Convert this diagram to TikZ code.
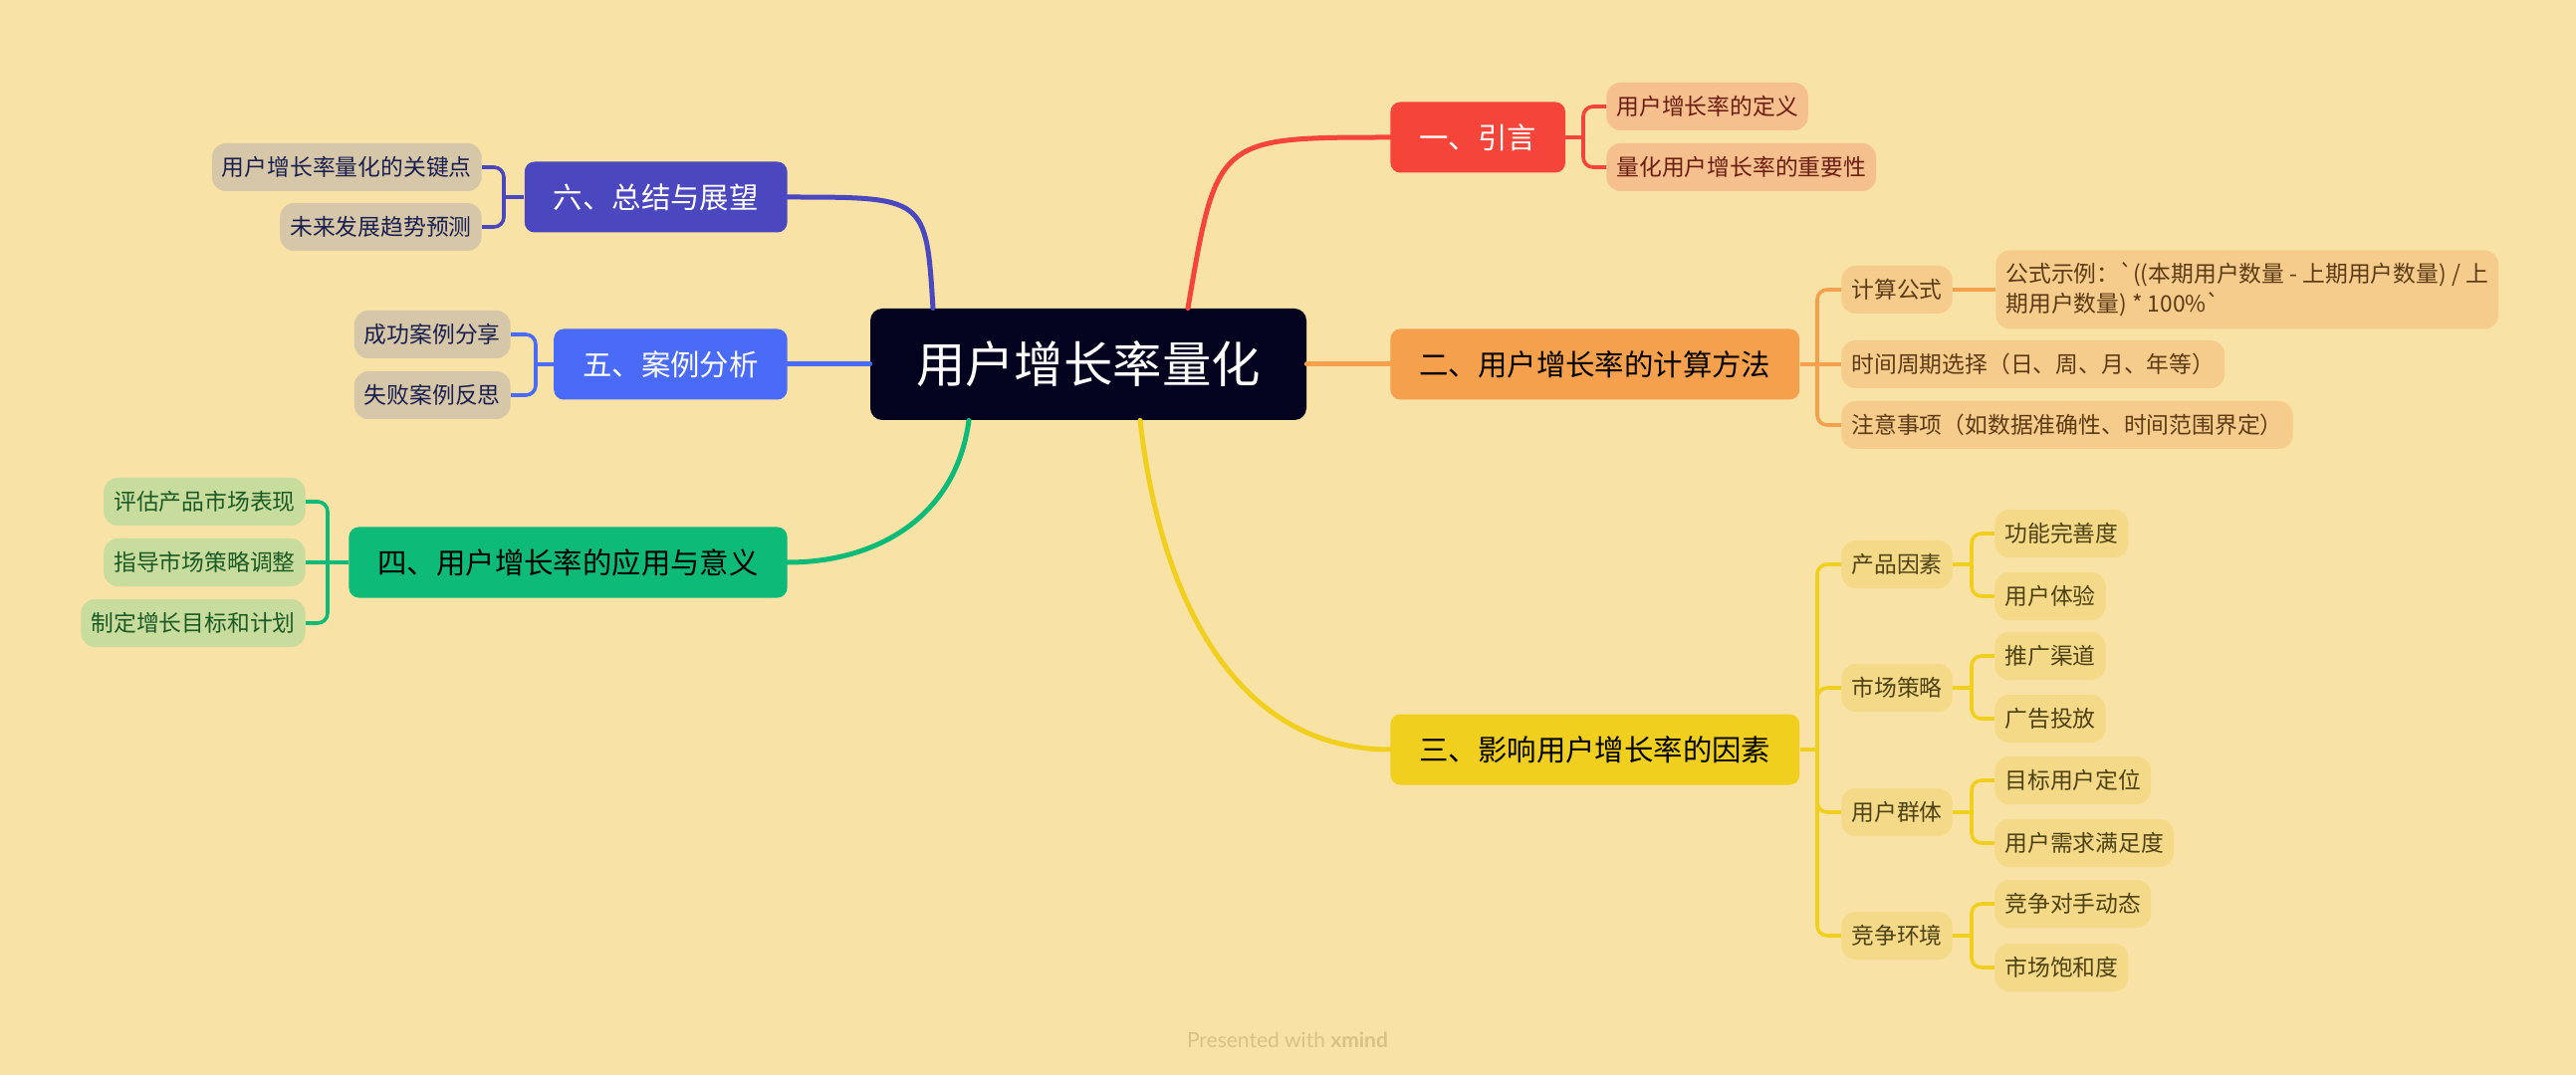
\documentclass[tikz,border=0pt]{standalone}
\usepackage{fontspec}
\setmainfont{Noto Sans CJK SC}[Ligatures=TeXOff]
\newfontfamily\creditfont{Lato}
\usepackage{xcolor}
\usepackage{tikz}
\usetikzlibrary{calc}

\definecolor{paper}{HTML}{F8E2A6}
\definecolor{rootnavy}{HTML}{03031F}
\definecolor{redbranch}{HTML}{F5443A}
\definecolor{orangebranch}{HTML}{F5A04D}
\definecolor{yellowbranch}{HTML}{F0CF1E}
\definecolor{greenbranch}{HTML}{0DBA78}
\definecolor{bluebranch}{HTML}{4A6BF7}
\definecolor{indigobranch}{HTML}{4B47BE}
\definecolor{creditgold}{HTML}{D8C285}
\definecolor{introfill}{HTML}{F5BF8E}
\definecolor{introink}{HTML}{6B1E10}
\definecolor{methodfill}{HTML}{F6CC8C}
\definecolor{methodink}{HTML}{5C3A14}
\definecolor{factorfill}{HTML}{F4DA88}
\definecolor{factorink}{HTML}{4E4112}
\definecolor{usagefill}{HTML}{C8DC9D}
\definecolor{usageink}{HTML}{1C5A25}
\definecolor{outlookfill}{HTML}{D6C7A9}
\definecolor{outlookink}{HTML}{1A1F4E}

\begin{document}
\begin{tikzpicture}[
    x=0.5pt, y=-0.5pt,
    rootbox/.style={rectangle, rounded corners=6pt, fill=rootnavy, text=white,
                    font=\fontsize{24.7}{30}\selectfont, minimum height=56pt,
                    minimum width=219pt, inner xsep=0pt, inner ysep=0pt},
    topicbox/.style={rectangle, rounded corners=5pt, minimum height=35.5pt,
                     inner xsep=14.5pt, inner ysep=0pt,
                     font=\fontsize{14.7}{17}\selectfont},
    subbox/.style={rectangle, rounded corners=7pt, minimum height=24pt,
                   inner xsep=5pt, inner ysep=0pt,
                   font=\fontsize{11.4}{15}\selectfont},
    introsub/.style={subbox, fill=introfill, text=introink},
    methodsub/.style={subbox, fill=methodfill, text=methodink},
    factorsub/.style={subbox, fill=factorfill, text=factorink},
    usagesub/.style={subbox, fill=usagefill, text=usageink},
    outlooksub/.style={subbox, fill=outlookfill, text=outlookink},
    branch/.style={line width=2.5pt, line cap=round},
    twig/.style={line width=1.8pt, rounded corners=5pt}
]

\fill[paper] (0,0) rectangle (2587,1080);
\useasboundingbox (0,0) rectangle (2587,1080);

% Central topic
\node[rootbox] (root) at (1093,366) {用户增长率量化};

% Main topics (right side)
\node[topicbox, fill=redbranch, text=white, anchor=west] (intro) at (1396,138) {一、引言};
\node[topicbox, fill=orangebranch, text=black, anchor=west] (method) at (1396,366) {二、用户增长率的计算方法};
\node[topicbox, fill=yellowbranch, text=black, anchor=west] (factor) at (1396,753) {三、影响用户增长率的因素};

% Main topics (left side)
\node[topicbox, fill=greenbranch, text=black, anchor=east] (usage) at (791,565) {四、用户增长率的应用与意义};
\node[topicbox, fill=bluebranch, text=white, anchor=east] (cases) at (791,366) {五、案例分析};
\node[topicbox, fill=indigobranch, text=white, anchor=east] (outlook) at (791,198) {六、总结与展望};

% Root -> topics
\draw[branch, redbranch] ($(root.north)+(100,0)$) .. controls (1222,138) .. (intro.west);
\draw[branch, orangebranch] (root.east) -- (method.west);
\draw[branch, yellowbranch] ($(root.south)+(52,0)$) .. controls (1165,600) and (1240,753) .. (factor.west);
\draw[branch, greenbranch] ($(root.south)+(-120,0)$) .. controls (960,520) and (880,565) .. (usage.east);
\draw[branch, bluebranch] (root.west) -- (cases.east);
\draw[branch, indigobranch] ($(root.north)+(-156,0)$) .. controls (930,198) .. (outlook.east);

% 一、引言
\node[introsub, anchor=west] (intro1) at (1613,107) {用户增长率的定义};
\node[introsub, anchor=west] (intro2) at (1613,168) {量化用户增长率的重要性};
\coordinate (introspine) at (1590,138);
\draw[twig, redbranch] (intro.east) -- (introspine);
\draw[twig, redbranch] (introspine) |- (intro1.west);
\draw[twig, redbranch] (introspine) |- (intro2.west);

% 二、计算方法
\node[methodsub, anchor=west] (method1) at (1849,291) {计算公式};
\node[methodsub, anchor=west, align=left, minimum height=39.5pt] (formula) at (2004,291)
    {公式示例：`((本期用户数量 - 上期用户数量) / 上\\期用户数量) * 100\%`};
\node[methodsub, anchor=west] (method2) at (1849,366) {时间周期选择（日、周、月、年等）};
\node[methodsub, anchor=west] (method3) at (1849,427) {注意事项（如数据准确性、时间范围界定）};
\coordinate (methodspine) at (1825,366);
\draw[twig, orangebranch] (method.east) -- (method2.west);
\draw[twig, orangebranch] (methodspine) |- (method1.west);
\draw[twig, orangebranch] (methodspine) |- (method3.west);
\draw[twig, orangebranch] (method1.east) -- (formula.west);

% 三、影响因素
\node[factorsub, anchor=west] (product) at (1849,567) {产品因素};
\node[factorsub, anchor=west] (market) at (1849,691) {市场策略};
\node[factorsub, anchor=west] (crowd) at (1849,816) {用户群体};
\node[factorsub, anchor=west] (rival) at (1849,940) {竞争环境};
\coordinate (factorspine) at (1825,753);
\draw[twig, yellowbranch] (factor.east) -- (factorspine);
\draw[twig, yellowbranch] (factorspine) |- (product.west);
\draw[twig, yellowbranch] (factorspine) |- (market.west);
\draw[twig, yellowbranch] (factorspine) |- (crowd.west);
\draw[twig, yellowbranch] (factorspine) |- (rival.west);

\node[factorsub, anchor=west] (product1) at (2003,536) {功能完善度};
\node[factorsub, anchor=west] (product2) at (2003,599) {用户体验};
\node[factorsub, anchor=west] (market1) at (2003,659) {推广渠道};
\node[factorsub, anchor=west] (market2) at (2003,722) {广告投放};
\node[factorsub, anchor=west] (crowd1) at (2003,784) {目标用户定位};
\node[factorsub, anchor=west] (crowd2) at (2003,847) {用户需求满足度};
\node[factorsub, anchor=west] (rival1) at (2003,908) {竞争对手动态};
\node[factorsub, anchor=west] (rival2) at (2003,972) {市场饱和度};

\coordinate (productspine) at (1980,567);
\coordinate (marketspine) at (1980,691);
\coordinate (crowdspine) at (1980,816);
\coordinate (rivalspine) at (1980,940);
\draw[twig, yellowbranch] (product.east) -- (productspine);
\draw[twig, yellowbranch] (productspine) |- (product1.west);
\draw[twig, yellowbranch] (productspine) |- (product2.west);
\draw[twig, yellowbranch] (market.east) -- (marketspine);
\draw[twig, yellowbranch] (marketspine) |- (market1.west);
\draw[twig, yellowbranch] (marketspine) |- (market2.west);
\draw[twig, yellowbranch] (crowd.east) -- (crowdspine);
\draw[twig, yellowbranch] (crowdspine) |- (crowd1.west);
\draw[twig, yellowbranch] (crowdspine) |- (crowd2.west);
\draw[twig, yellowbranch] (rival.east) -- (rivalspine);
\draw[twig, yellowbranch] (rivalspine) |- (rival1.west);
\draw[twig, yellowbranch] (rivalspine) |- (rival2.west);

% 四、应用与意义
\node[usagesub, anchor=east] (usage1) at (307,504) {评估产品市场表现};
\node[usagesub, anchor=east] (usage2) at (307,565) {指导市场策略调整};
\node[usagesub, anchor=east] (usage3) at (307,626) {制定增长目标和计划};
\coordinate (usagespine) at (329,565);
\draw[twig, greenbranch] (usage.west) -- (usage2.east);
\draw[twig, greenbranch] (usagespine) |- (usage1.east);
\draw[twig, greenbranch] (usagespine) |- (usage3.east);

% 五、案例分析
\node[outlooksub, anchor=east] (cases1) at (513,336) {成功案例分享};
\node[outlooksub, anchor=east] (cases2) at (513,397) {失败案例反思};
\coordinate (casesspine) at (538,366);
\draw[twig, bluebranch] (cases.west) -- (casesspine);
\draw[twig, bluebranch] (casesspine) |- (cases1.east);
\draw[twig, bluebranch] (casesspine) |- (cases2.east);

% 六、总结与展望
\node[outlooksub, anchor=east] (outlook1) at (484,168) {用户增长率量化的关键点};
\node[outlooksub, anchor=east] (outlook2) at (484,228) {未来发展趋势预测};
\coordinate (outlookspine) at (506,198);
\draw[twig, indigobranch] (outlook.west) -- (outlookspine);
\draw[twig, indigobranch] (outlookspine) |- (outlook1.east);
\draw[twig, indigobranch] (outlookspine) |- (outlook2.east);

% footer
\node[font=\creditfont\fontsize{10.5}{12}\selectfont, text=creditgold] (credit) at (1293,1045)
    {Presented with \textbf{xmind}};

\end{tikzpicture}
\end{document}
